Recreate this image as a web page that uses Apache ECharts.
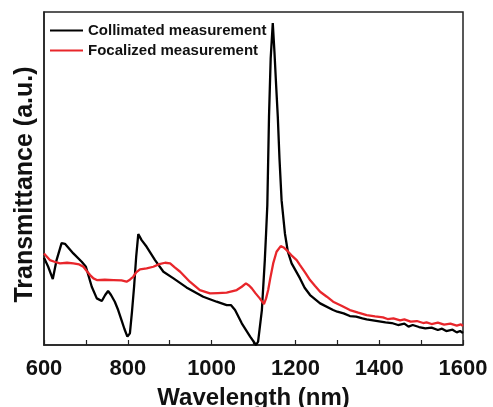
<!DOCTYPE html>
<html><head><meta charset="utf-8">
<script src="https://cdn.jsdelivr.net/npm/echarts@6/dist/echarts.min.js"></script>
<style>html,body{margin:0;padding:0;background:#fff}#c{width:493px;height:407px}</style>
</head><body><div id="c"></div>
<script>
const collimatedX = [600,610,621,630,642,650,670,690,700,707,714,726,738,746,753,760,769,777,785,792,799,805,810,815,820,825,833,845,865,885,909,940,980,1012,1036,1046,1056,1072,1092,1106,1111,1120,1127,1130,1133,1137,1141,1146,1150,1154,1158,1162,1167,1175,1182,1191,1200,1211,1222,1235,1259,1290,1300,1315,1330,1345,1360,1370,1385,1400,1415,1430,1445,1460,1470,1480,1495,1510,1525,1540,1550,1560,1575,1585,1593,1600];
const collimatedY = [262,235,198,255,306,304,275,250,235,205,175,140,132,150,162,150,130,105,75,48,25,35,100,175,265,333,315,295,255,220,200,173,145,130,120,120,105,65,25,0,10,105,255,335,420,685,860,967,880,780,685,560,435,335,280,245,225,200,172,150,125,105,100,95,87,85,80,77,74,71,68,66,60,64,55,60,54,50,52,45,49,42,46,38,42,36];
const focalizedX = [600,607,614,625,638,655,670,684,694,702,710,718,726,745,766,785,797,805,813,820,829,845,861,875,889,901,912,925,948,972,996,1015,1036,1060,1072,1082,1090,1096,1105,1115,1125,1130,1135,1140,1147,1155,1165,1172,1179,1190,1203,1211,1223,1235,1247,1259,1275,1290,1310,1330,1350,1370,1390,1409,1420,1434,1450,1460,1475,1490,1505,1513,1525,1540,1555,1570,1585,1595,1600];
const focalizedY = [275,265,255,250,245,247,245,242,235,222,210,200,195,196,195,194,190,196,205,218,227,230,235,243,247,245,233,220,190,165,155,156,157,165,175,185,178,170,155,140,123,140,165,200,245,280,297,293,285,270,255,240,218,195,177,160,145,130,118,105,97,90,86,83,78,80,74,77,70,72,66,68,63,67,61,64,58,62,57];
const xTicks = [600,800,1000,1200,1400,1600];
const seriesNames = ['Collimated measurement','Focalized measurement'];

const chart = echarts.init(document.getElementById('c'));
const font = 'Liberation Sans, Arial, sans-serif';
chart.setOption({
  animation:false,
  grid:{left:44,right:30,top:12,bottom:62,outerBoundsMode:'none',containLabel:false,show:true,borderColor:'#222',borderWidth:1.5,backgroundColor:'transparent'},
  legend:{
    orient:'vertical',left:50,top:23,padding:0,itemGap:5,itemWidth:33,itemHeight:2,icon:'rect',
    textStyle:{fontFamily:font,fontWeight:'bold',fontSize:15,color:'#111'},
    data:seriesNames
  },
  xAxis:{
    type:'value',min:600,max:1600,interval:100,
    name:'Wavelength (nm)',nameLocation:'middle',nameGap:41,
    nameTextStyle:{fontFamily:font,fontWeight:'bold',fontSize:24,color:'#111'},
    axisLine:{lineStyle:{color:'#222',width:1.5}},
    axisTick:{inside:true,length:5,lineStyle:{color:'#222',width:1.2}},
    axisLabel:{margin:13,fontFamily:font,fontWeight:'bold',fontSize:22,color:'#111',
      formatter:v=>xTicks.includes(v)?String(v):''},
    splitLine:{show:false}
  },
  yAxis:{
    type:'value',min:0,max:1000,
    name:'Transmittance (a.u.)',nameLocation:'middle',nameGap:6,
    nameTextStyle:{fontFamily:font,fontWeight:'bold',fontSize:25,color:'#111',padding:[0,0,0,-12]},
    axisLine:{show:true,lineStyle:{color:'#222',width:1.5}},
    axisTick:{show:false},axisLabel:{show:false},splitLine:{show:false}
  },
  series:[
    {name:seriesNames[0],type:'line',showSymbol:false,symbol:'none',color:'#000',
     lineStyle:{color:'#000',width:2.3},z:2,
     data:collimatedX.map((x,i)=>[x,collimatedY[i]])},
    {name:seriesNames[1],type:'line',showSymbol:false,symbol:'none',color:'#e8262b',
     lineStyle:{color:'#e8262b',width:2.3},z:3,
     data:focalizedX.map((x,i)=>[x,focalizedY[i]])}
  ]
});
</script></body></html>
